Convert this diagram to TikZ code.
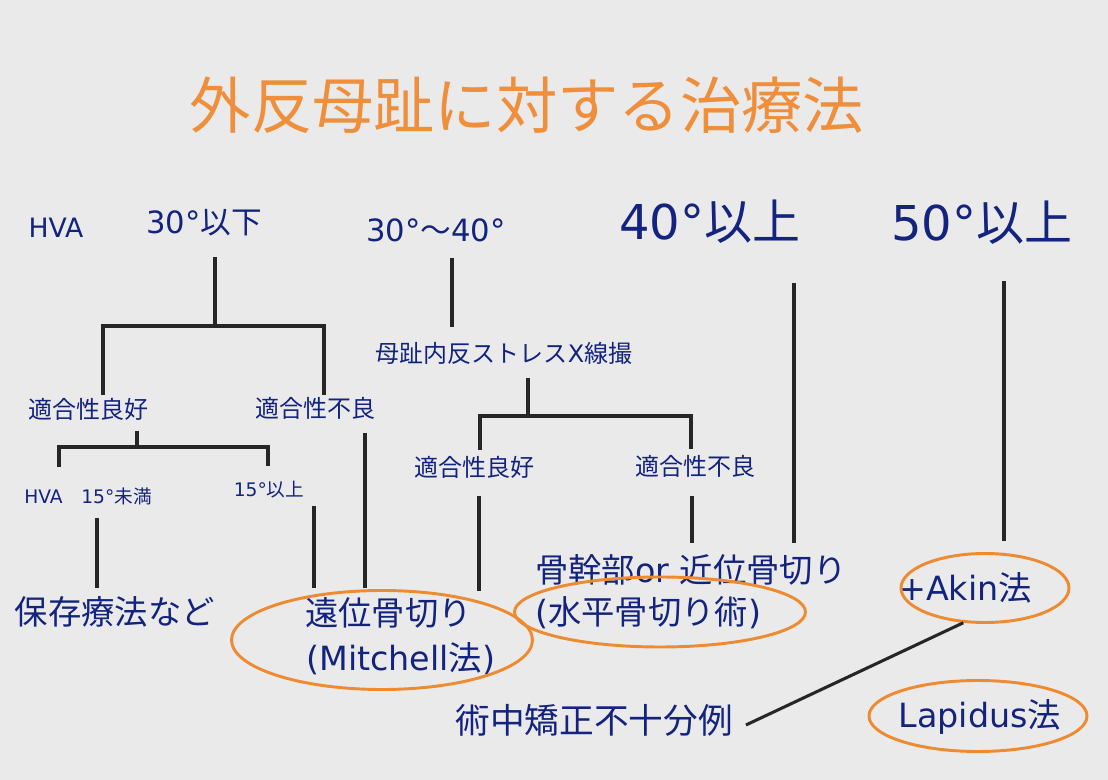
\documentclass[tikz,border=0pt]{standalone}
\usepackage{fontspec}
\setmainfont{Noto Sans CJK JP}
\newfontfamily\jp{Noto Sans CJK JP}
\newfontfamily\lat{DejaVu Sans}
\usetikzlibrary{shapes.geometric}
\definecolor{bg}{HTML}{EAEAEA}
\definecolor{navy}{HTML}{13237E}
\definecolor{titleor}{HTML}{EF8E3B}
\definecolor{ovalor}{HTML}{EE8A30}
\definecolor{linegray}{HTML}{262626}
\newcommand\pxsize[1]{\fontsize{#1pt}{#1pt}\selectfont}
\tikzset{
  lbl/.style={inner sep=0pt, text=navy, font=\jp},
  branch/.style={draw=linegray, line width=2.6pt, line join=miter},
  oval/.style={ellipse, draw=ovalor, line width=2.2pt, inner sep=0pt},
}
\begin{document}
\begin{tikzpicture}[x=0.75pt, y=-0.75pt]
  \fill[bg] (0,0) rectangle (1108,780);
  \useasboundingbox (0,0) rectangle (1108,780);

  % title
  \node[inner sep=0pt, text=titleor, font=\jp\pxsize{46}] (title) at (527,105) {外反母趾に対する治療法};

  % angle headings
  \node[lbl, font=\jp\pxsize{20}] (hva) at (56,228) {\lat HVA};
  \node[lbl, font=\jp\pxsize{23}] (t30) at (204,223) {{\lat 30°}以下};
  \node[lbl, font=\jp\pxsize{23}] (t3040) at (436,230) {{\lat 30°}～{\lat 40°}};
  \node[lbl, font=\jp\pxsize{36}] (t40) at (710,222) {{\lat 40°}以上};
  \node[lbl, font=\jp\pxsize{36}] (t50) at (982,223) {{\lat 50°}以上};

  % second level
  \node[lbl, font=\jp\pxsize{18}] (good1) at (88,409) {適合性良好};
  \node[lbl, font=\jp\pxsize{18}] (poor1) at (315,408) {適合性不良};
  \node[lbl, font=\jp\pxsize{18}] (stress) at (504,353) {母趾内反ストレス{\lat X}線撮};
  \node[lbl, font=\jp\pxsize{18}] (good2) at (474,467) {適合性良好};
  \node[lbl, font=\jp\pxsize{18}] (poor2) at (695,466) {適合性不良};
  \node[lbl, font=\jp\pxsize{14}] (hva15) at (88,496) {{\lat HVA}　{\lat 15°}未満};
  \node[lbl, font=\jp\pxsize{14}] (over15) at (269,490) {{\lat 15°}以上};

  % treatments
  \node[lbl, font=\jp\pxsize{25}] (cons) at (115,612) {保存療法など};
  \node[lbl, font=\jp\pxsize{25}, anchor=west] (distal) at (305,613) {遠位骨切り};
  \node[lbl, font=\jp\pxsize{25}, anchor=west] (mitch) at (306,659) {{\lat (Mitchell}法{\lat )}};
  \node[lbl, font=\jp\pxsize{25}, anchor=west] (shaft) at (535,570) {骨幹部{\lat or }近位骨切り};
  \node[lbl, font=\jp\pxsize{25}, anchor=west] (horiz) at (535,613) {{\lat (}水平骨切り術{\lat )}};
  \node[lbl, font=\jp\pxsize{25}] (akin) at (965,588) {{\lat +Akin}法};
  \node[lbl, font=\jp\pxsize{25}] (lapid) at (980,717) {{\lat Lapidus}法};
  \node[lbl, font=\jp\pxsize{26}] (intra) at (594,720) {術中矯正不十分例};

  % branch points
  \coordinate (a0) at (215,257);  \coordinate (a1) at (215,326);
  \coordinate (aL) at (103,395);  \coordinate (aR) at (324,395);
  \coordinate (b0) at (137,431);  \coordinate (b1) at (137,447);
  \coordinate (bL) at (59,467);   \coordinate (bR) at (268,466);
  \coordinate (c0) at (97,518);   \coordinate (c1) at (97,588);
  \coordinate (d0) at (314,506);  \coordinate (d1) at (314,588);
  \coordinate (e0) at (365,433);  \coordinate (e1) at (365,588);
  \coordinate (f0) at (452,258);  \coordinate (f1) at (452,327);
  \coordinate (g0) at (528,378);  \coordinate (g1) at (528,416);
  \coordinate (gL) at (480,450);  \coordinate (gR) at (691,449);
  \coordinate (h0) at (479,496);  \coordinate (h1) at (479,591);
  \coordinate (i0) at (692,496);  \coordinate (i1) at (692,543);
  \coordinate (j0) at (794,283);  \coordinate (j1) at (794,543);
  \coordinate (k0) at (1004,281); \coordinate (k1) at (1004,541);

  % tree connectors
  \draw[branch] (a0) -- (a1);
  \draw[branch] (aL) -- (aL |- a1) -- (aR |- a1) -- (aR);
  \draw[branch] (b0) -- (b1);
  \draw[branch] (bL) -- (bL |- b1) -- (bR |- b1) -- (bR);
  \draw[branch] (c0) -- (c1);
  \draw[branch] (d0) -- (d1);
  \draw[branch] (e0) -- (e1);
  \draw[branch] (f0) -- (f1);
  \draw[branch] (g0) -- (g1);
  \draw[branch] (gL) -- (gL |- g1) -- (gR |- g1) -- (gR);
  \draw[branch] (h0) -- (h1);
  \draw[branch] (i0) -- (i1);
  \draw[branch] (j0) -- (j1);
  \draw[branch] (k0) -- (k1);

  % highlighted procedures
  \node[oval, minimum width=225.75pt, minimum height=74.25pt] (ov1) at (382,640) {};
  \node[oval, minimum width=218.25pt, minimum height=52.5pt] (ov2) at (660,612) {};
  \node[oval, minimum width=126pt, minimum height=51.75pt] (ov3) at (985,588) {};
  \node[oval, minimum width=163.5pt, minimum height=53.25pt] (ov4) at (978,716) {};

  % link from the Akin oval
  \draw[branch, line width=2.3pt] (ov3.-122) -- ([xshift=9.75pt, yshift=-3.75pt]intra.east);
\end{tikzpicture}
\end{document}
